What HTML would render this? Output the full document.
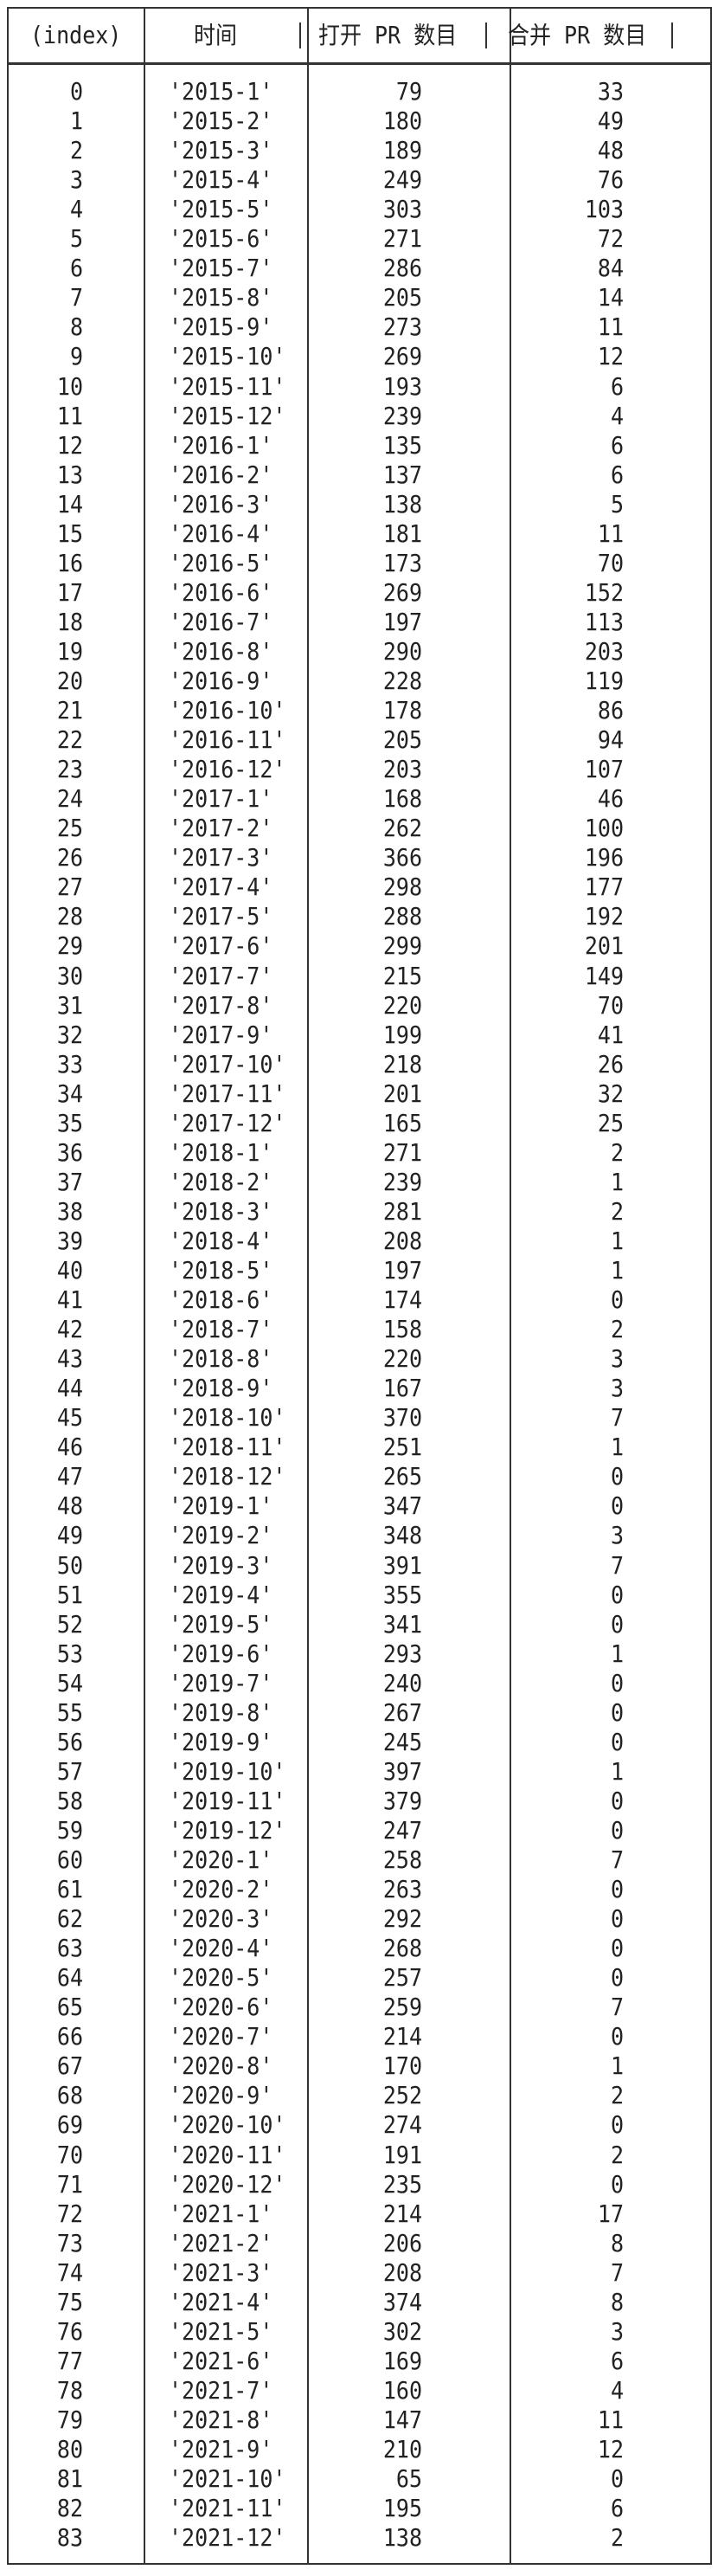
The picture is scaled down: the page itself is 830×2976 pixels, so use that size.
<!DOCTYPE html>
<html><head><meta charset="utf-8">
<style>
html,body{margin:0;padding:0;background:#fff;}
#wrap{position:relative;width:830px;height:2976px;overflow:hidden;background:#fff;}
.t{position:absolute;font-family:"DejaVu Sans Mono","Liberation Mono","Noto Sans CJK SC",monospace;font-size:25px;color:#222;white-space:pre;line-height:30px;height:30px;transform:scaleY(1.1);}
.ln{position:absolute;background:#333;}
</style></head>
<body>
<div id="wrap">
  <div class="ln" style="left:8px;top:8px;width:815px;height:2px"></div>
  <div class="ln" style="left:8px;top:72px;width:815px;height:3px"></div>
  <div class="ln" style="left:8px;top:2961px;width:815px;height:2px"></div>
  <div class="ln" style="left:8px;top:8px;width:2px;height:2955px"></div>
  <div class="ln" style="left:166px;top:8px;width:2px;height:2955px"></div>
  <div class="ln" style="left:355px;top:8px;width:2px;height:2955px"></div>
  <div class="ln" style="left:589px;top:8px;width:2px;height:2955px"></div>
  <div class="ln" style="left:821px;top:8px;width:2px;height:2955px"></div>

  <div class="t" style="left:35px;top:26px">(index)</div>
  <div class="t" style="left:224px;top:26px">时间</div>
  <div class="t" style="left:368px;top:26px">打开 PR 数目</div>
  <div class="t" style="left:587px;top:26px">合并 PR 数目</div>
  <div class="ln" style="left:346px;top:26px;width:2px;height:30px"></div>
  <div class="ln" style="left:561px;top:26px;width:2px;height:30px"></div>
  <div class="ln" style="left:776px;top:26px;width:2px;height:30px"></div>
</div>
<script>
const months = ['2015-1','2015-2','2015-3','2015-4','2015-5','2015-6','2015-7','2015-8','2015-9','2015-10','2015-11','2015-12',
'2016-1','2016-2','2016-3','2016-4','2016-5','2016-6','2016-7','2016-8','2016-9','2016-10','2016-11','2016-12',
'2017-1','2017-2','2017-3','2017-4','2017-5','2017-6','2017-7','2017-8','2017-9','2017-10','2017-11','2017-12',
'2018-1','2018-2','2018-3','2018-4','2018-5','2018-6','2018-7','2018-8','2018-9','2018-10','2018-11','2018-12',
'2019-1','2019-2','2019-3','2019-4','2019-5','2019-6','2019-7','2019-8','2019-9','2019-10','2019-11','2019-12',
'2020-1','2020-2','2020-3','2020-4','2020-5','2020-6','2020-7','2020-8','2020-9','2020-10','2020-11','2020-12',
'2021-1','2021-2','2021-3','2021-4','2021-5','2021-6','2021-7','2021-8','2021-9','2021-10','2021-11','2021-12'];
const openPR = [79,180,189,249,303,271,286,205,273,269,193,239,
135,137,138,181,173,269,197,290,228,178,205,203,
168,262,366,298,288,299,215,220,199,218,201,165,
271,239,281,208,197,174,158,220,167,370,251,265,
347,348,391,355,341,293,240,267,245,397,379,247,
258,263,292,268,257,259,214,170,252,274,191,235,
214,206,208,374,302,169,160,147,210,65,195,138];
const mergedPR = [33,49,48,76,103,72,84,14,11,12,6,4,
6,6,5,11,70,152,113,203,119,86,94,107,
46,100,196,177,192,201,149,70,41,26,32,25,
2,1,2,1,1,0,2,3,3,7,1,0,
0,3,7,0,0,1,0,0,0,1,0,0,
7,0,0,0,0,7,0,1,2,0,2,0,
17,8,7,8,3,6,4,11,12,0,6,2];
const wrap = document.getElementById('wrap');
function rowY(i){ return 106 + i*34.05 - 15; }
function addText(txt, y, opts){
  const d = document.createElement('div');
  d.className = 't';
  d.textContent = txt;
  d.style.top = y + 'px';
  if (opts.right !== undefined) { d.style.right = (830 - opts.right) + 'px'; }
  else { d.style.left = opts.left + 'px'; }
  wrap.appendChild(d);
  return d;
}
for (let i = 0; i < months.length; i++) {
  const y = rowY(i);
  const a = addText(String(i), y, {right:96});
  
  
  const b = addText("'" + months[i] + "'", y, {left:195});
  
  
  const c = addText(String(openPR[i]), y, {right:488});
  
  
  const e = addText(String(mergedPR[i]), y, {right:721});
  
  
}
</script>
</body></html>
